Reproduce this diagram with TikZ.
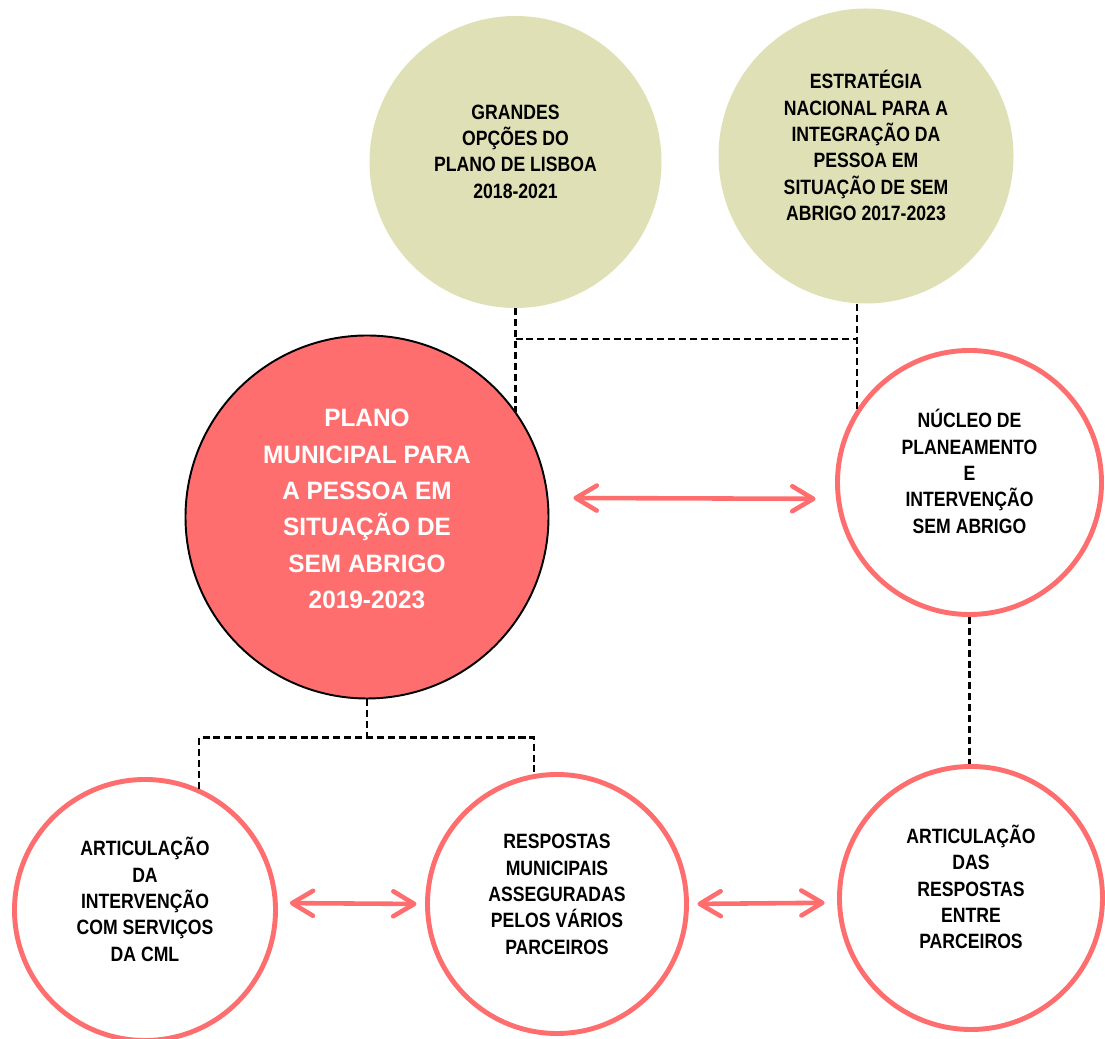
\documentclass[tikz,border=0pt]{standalone}
\usepackage{fontspec}
\setmainfont{Liberation Sans}
\newfontfamily\narrowfont{Liberation Sans}[FakeStretch=0.85]
\newfontfamily\redfont{Liberation Sans}[FakeStretch=0.97]
\usepackage{tikz}
\usetikzlibrary{calc,arrows.meta}
\definecolor{oliveback}{RGB}{224,224,183}
\definecolor{coral}{RGB}{255,110,110}

\begin{document}
\begin{tikzpicture}
  \tikzstyle{olivecirc}=[circle,fill=oliveback,inner sep=0pt,minimum size=5.86cm]
  \tikzstyle{ringcirc}=[circle,draw=coral,line width=2.8pt,inner sep=0pt,minimum size=5.22cm]
  \tikzstyle{plancirc}=[circle,draw=black,line width=1.1pt,fill=coral,inner sep=0pt,minimum size=7.26cm]
  \tikzstyle{blktxt}=[align=center,inner sep=0pt,font=\narrowfont\bfseries\fontsize{11.8}{15}\selectfont]
  \tikzstyle{whttxt}=[align=center,inner sep=0pt,text=white,font=\redfont\bfseries\fontsize{14.3}{20.7}\selectfont]
  \tikzstyle{link}=[black,line width=1.3pt,dash pattern=on 4pt off 2.2pt]
  \tikzstyle{both}=[coral,line width=2.6pt,{Straight Barb[length=0.42cm,width=0.5cm,round]}-{Straight Barb[length=0.42cm,width=0.5cm,round]}]
  \useasboundingbox (0,0) rectangle (22.1,20.78);
  % circles
  \node[olivecirc,minimum size=5.84cm] (go) at (10.31,17.54) {};
  \node[olivecirc,minimum size=5.9cm] (en) at (17.32,17.66) {};
  \node[plancirc] (pm) at (7.34,10.44) {};
  \node[ringcirc,minimum size=5.28cm] (nu) at (19.39,11.13) {};
  \node[ringcirc] (ad) at (2.90,2.58) {};
  \node[ringcirc,minimum size=5.18cm] (rm) at (11.14,2.70) {};
  \node[ringcirc,minimum size=5.26cm] (ap) at (19.42,2.82) {};
  % texts
  \node[blktxt] (go-t) at ([yshift=0.21cm]go.center) {GRANDES\\OPÇÕES DO\\PLANO DE LISBOA\\2018-2021};
  \node[blktxt] (en-t) at ([yshift=0.21cm]en.center) {ESTRATÉGIA\\NACIONAL PARA A\\INTEGRAÇÃO DA\\PESSOA EM\\SITUAÇÃO DE SEM\\ABRIGO 2017-2023};
  \node[whttxt] (pm-t) at ([yshift=0.16cm]pm.center) {PLANO\\MUNICIPAL PARA\\A PESSOA EM\\SITUAÇÃO DE\\SEM ABRIGO\\2019-2023};
  \node[blktxt] (nu-t) at ([yshift=0.22cm]nu.center) {NÚCLEO DE\\PLANEAMENTO\\E\\INTERVENÇÃO\\SEM ABRIGO};
  \node[blktxt] (ad-t) at ([yshift=0.21cm]ad.center) {ARTICULAÇÃO\\DA\\INTERVENÇÃO\\COM SERVIÇOS\\DA CML};
  \node[blktxt] (rm-t) at ([yshift=0.19cm]rm.center) {RESPOSTAS\\MUNICIPAIS\\ASSEGURADAS\\PELOS VÁRIOS\\PARCEIROS};
  \node[blktxt] (ap-t) at ([yshift=0.22cm]ap.center) {ARTICULAÇÃO\\DAS\\RESPOSTAS\\ENTRE\\PARCEIROS};
  % dashed links
  \draw[link] (go.south) -- (go.south |- pm.35);
  \draw[link] (nu.147 |- en.south) -- (nu.147);
  \draw[link] (go.south |- 0,14) -- (nu.147 |- 0,14);
  \draw[link] (pm.south) -- (pm.south |- 0,6.03);
  \draw[link] (ad.66) -- (ad.66 |- 0,6.03) -- (rm.100 |- 0,6.03) -- (rm.100);
  \draw[link] (nu.south) -- (nu.south |- ap.north);
  % double arrows
  \draw[both,shorten <=0.5cm,shorten >=0.41cm] (pm.6) -- (nu.187);
  \draw[both,shorten <=0.24cm,shorten >=0.17cm] (ad.3) -- (rm.180);
  \draw[both,shorten <=0.17cm,shorten >=0.25cm] (rm.0) -- (ap.182);
\end{tikzpicture}
\end{document}
